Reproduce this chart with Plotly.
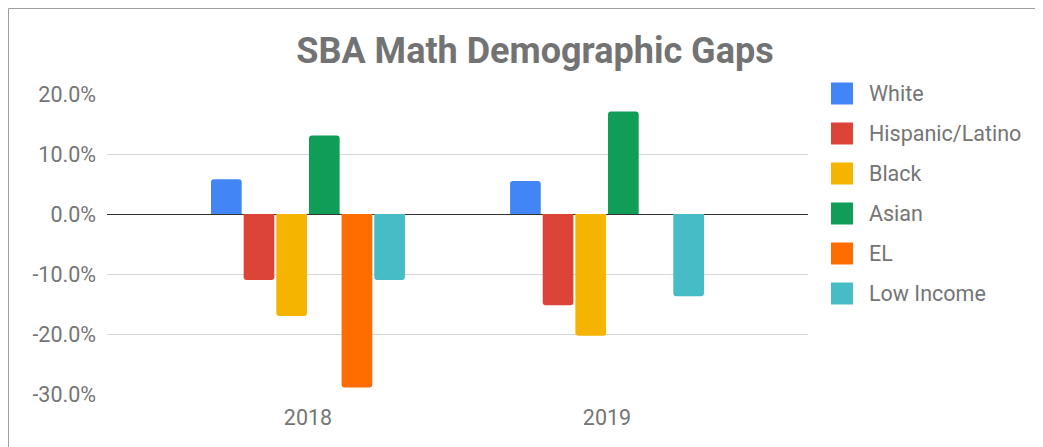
import plotly.graph_objects as go

years = ["2018", "2019"]
series = ["White", "Hispanic/Latino", "Black", "Asian", "EL", "Low Income"]
colors = ["#4285F4", "#DB4437", "#F4B400", "#0F9D58", "#FF6D00", "#46BDC6"]
white = [0.058, 0.055]
hispanic = [-0.110, -0.152]
black = [-0.170, -0.203]
asian = [0.131, 0.171]
el = [-0.289, None]
low_income = [-0.110, -0.137]
values = [white, hispanic, black, asian, el, low_income]
y_tickvals = [-0.3, -0.2, -0.1, 0.0, 0.1, 0.2]
y_ticktext = ["-30.0%", "-20.0%", "-10.0%", "0.0%", "10.0%", "20.0%"]

OFF = 8  # page body margin
W, H = 1043 - OFF, 447 - OFF
L, R, T, B = 107 - OFF, 808 - OFF, 94 - OFF, 394 - OFF  # plot area in figure px

def px_x(px):
    return (px - OFF - L) / (R - L)

def px_y(py):
    return (B - (py - OFF)) / (B - T)

fig = go.Figure()
for name, col, vals in zip(series, colors, values):
    fig.add_trace(go.Bar(x=years, y=vals, name=name, marker=dict(color=col, line=dict(width=0)),
                         showlegend=False))

font_fam = "Roboto, Arial, sans-serif"
gray = "#757575"

shapes = []
annotations = []
# border
shapes.append(dict(type="rect", xref="paper", yref="paper",
                   x0=px_x(8.5), x1=px_x(1040.5), y0=px_y(470), y1=px_y(8.5),
                   line=dict(color="#9e9e9e", width=1), fillcolor="rgba(0,0,0,0)", layer="below"))
# legend
for i, (name, col) in enumerate(zip(series, colors)):
    cy = 93.5 + 40 * i
    shapes.append(dict(type="rect", xref="paper", yref="paper",
                       x0=px_x(831), x1=px_x(853), y0=px_y(cy + 11), y1=px_y(cy - 11),
                       line=dict(width=0), fillcolor=col))
    annotations.append(dict(text=name, xref="paper", yref="paper", x=px_x(867), y=px_y(cy),
                            xanchor="left", yanchor="middle", showarrow=False,
                            font=dict(family=font_fam, size=21.5, color=gray)))

fig.update_layout(
    width=W, height=H,
    margin=dict(l=L, r=W - R, t=T, b=H - B, pad=0),
    paper_bgcolor="white", plot_bgcolor="white",
    title=dict(text="<b>SBA Math Demographic Gaps</b>", x=(535 - OFF) / W, xanchor="center",
               y=1 - (50 - OFF) / H, yanchor="middle",
               font=dict(family=font_fam, size=36, color="#737373")),
    barmode="group", bargap=0.345, bargroupgap=0.06, barcornerradius=3,
    font=dict(family=font_fam, size=21.5, color=gray),
    xaxis=dict(type="category", range=[-0.672, 1.672], showgrid=False, showline=False,
               ticks="", tickfont=dict(size=21.5, color=gray), ticklabelstandoff=8),
    yaxis=dict(range=[-0.3, 0.2], tickvals=y_tickvals, ticktext=y_ticktext,
               showgrid=True, gridcolor="#d6d6d6", gridwidth=1,
               zeroline=True, zerolinecolor="#333333", zerolinewidth=1,
               showline=False, ticks="", tickfont=dict(size=21.5, color=gray),
               ticklabelstandoff=10),
    shapes=shapes, annotations=annotations,
    showlegend=False,
)

fig.write_html("out.html")
